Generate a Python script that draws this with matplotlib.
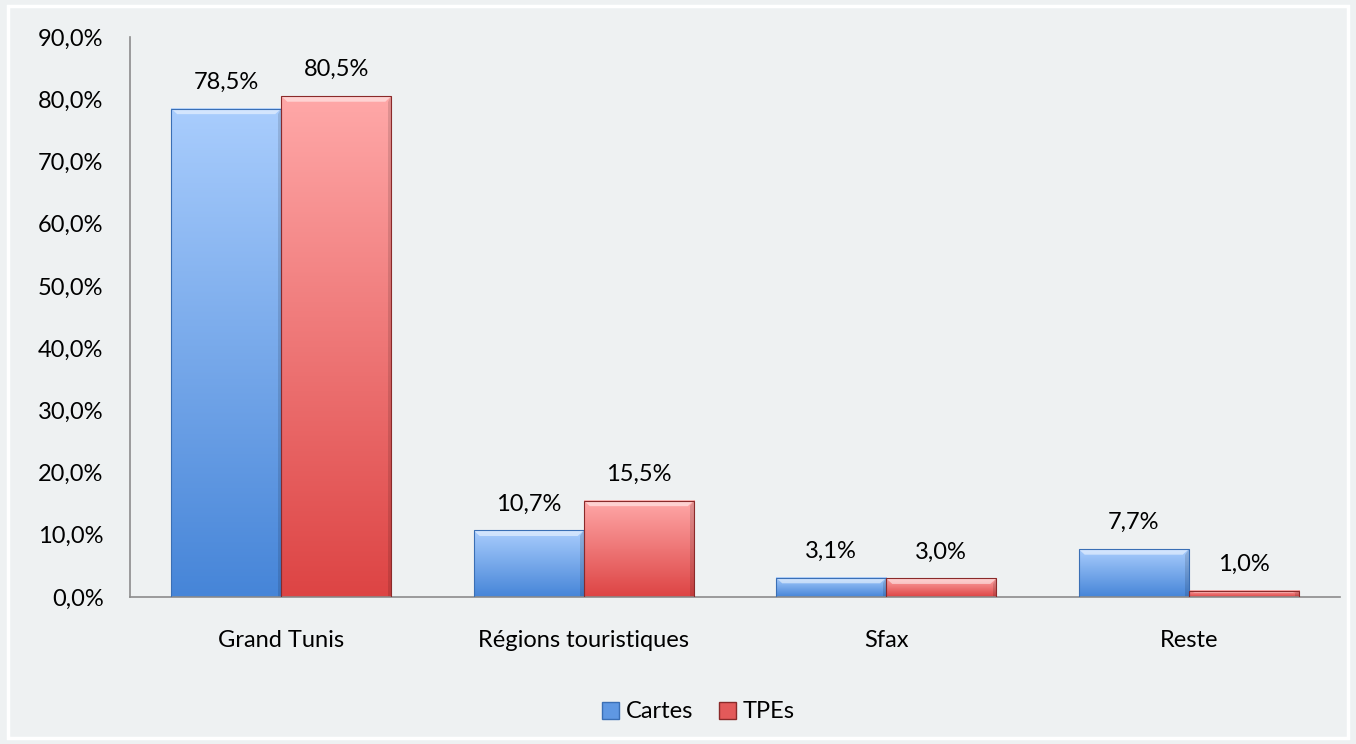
import numpy as np
import matplotlib
matplotlib.use('Agg')
import matplotlib.pyplot as plt
from matplotlib.patches import Rectangle, Patch
from matplotlib.colors import LinearSegmentedColormap

plt.rcParams['font.family'] = ['Lato', 'DejaVu Sans']

categories = ['Grand Tunis', 'Régions touristiques', 'Sfax', 'Reste']
cartes = [78.5, 10.7, 3.1, 7.7]
tpes = [80.5, 15.5, 3.0, 1.0]
yticks = [0, 10, 20, 30, 40, 50, 60, 70, 80, 90]

bg = '#eef1f2'
blue_top, blue_bot, blue_edge = '#a9cdfd', '#4685d8', '#3a6fb5'
red_top, red_bot, red_edge = '#ffa8a8', '#dd4444', '#8a2a2a'
fs = 17

fig = plt.figure(figsize=(13.56, 7.44), dpi=100, facecolor=bg)
ax = fig.add_axes([130 / 1356, 1 - 597 / 744, (1340 - 130) / 1356, (597 - 37) / 744])
ax.set_facecolor(bg)

# white frame round the chart area
fig.patches.append(Rectangle((8 / 1356, 6 / 744), 1340 / 1356, 732 / 744,
                             transform=fig.transFigure, fill=False,
                             edgecolor='white', linewidth=2.5))

x = np.arange(len(categories))
w = 0.364
b1 = ax.bar(x - w / 2, cartes, w, color='none', edgecolor=blue_edge, linewidth=0.8, zorder=3)
b2 = ax.bar(x + w / 2, tpes, w, color='none', edgecolor=red_edge, linewidth=0.8, zorder=3)

def paint(bars, top, bot):
    cmap = LinearSegmentedColormap.from_list('g', [bot, top])
    grad = np.linspace(0, 1, 256).reshape(-1, 1)
    for r in bars:
        x0, y0 = r.get_x(), r.get_y()
        x1, y1 = x0 + r.get_width(), y0 + r.get_height()
        ax.imshow(grad, cmap=cmap, origin='lower', aspect='auto',
                  extent=(x0, x1, y0, y1), zorder=2)
        # bevel: light top strip and darker right edge
        h = min(0.9, r.get_height() * 0.3)
        ax.fill([x0, x1, x1 - 0.02, x0 + 0.02], [y1, y1, y1 - h, y1 - h],
                color='white', alpha=0.5, zorder=2.5, linewidth=0)
        ax.fill([x1, x1, x1 - 0.012, x1 - 0.012], [y1, y0, y0, y1 - h],
                color='black', alpha=0.12, zorder=2.5, linewidth=0)

paint(b1, blue_top, blue_bot)
paint(b2, red_top, red_bot)

for bars, vals in ((b1, cartes), (b2, tpes)):
    for r, v in zip(bars, vals):
        ax.annotate(('%.1f%%' % v).replace('.', ','),
                    (r.get_x() + r.get_width() / 2, v), xytext=(0, 19),
                    textcoords='offset points', ha='center', va='center',
                    fontsize=fs, color='black')

ax.set_xlim(-0.5, 3.5)
ax.set_ylim(0, 90)
ax.set_yticks(yticks)
ax.set_yticklabels([('%.1f%%' % t).replace('.', ',') for t in yticks], fontsize=fs)
ax.set_xticks(x)
ax.set_xticklabels(categories, fontsize=fs)
ax.tick_params(axis='y', length=0, pad=19)
ax.tick_params(axis='x', length=0, pad=24)
for s in ('top', 'right'):
    ax.spines[s].set_visible(False)
for s in ('left', 'bottom'):
    ax.spines[s].set_color('#8c8c8c')
    ax.spines[s].set_linewidth(1.2)

handles = [Patch(facecolor='#5f98e3', edgecolor=blue_edge, label='Cartes'),
           Patch(facecolor='#e35a5a', edgecolor=red_edge, label='TPEs')]
fig.legend(handles=handles, loc='center', bbox_to_anchor=(0.515, 1 - 712 / 744), ncol=2,
           frameon=False, fontsize=fs, handlelength=0.7, handleheight=0.7,
           handletextpad=0.3, columnspacing=1.1)

fig.savefig('out.png', dpi=100, facecolor=bg)
